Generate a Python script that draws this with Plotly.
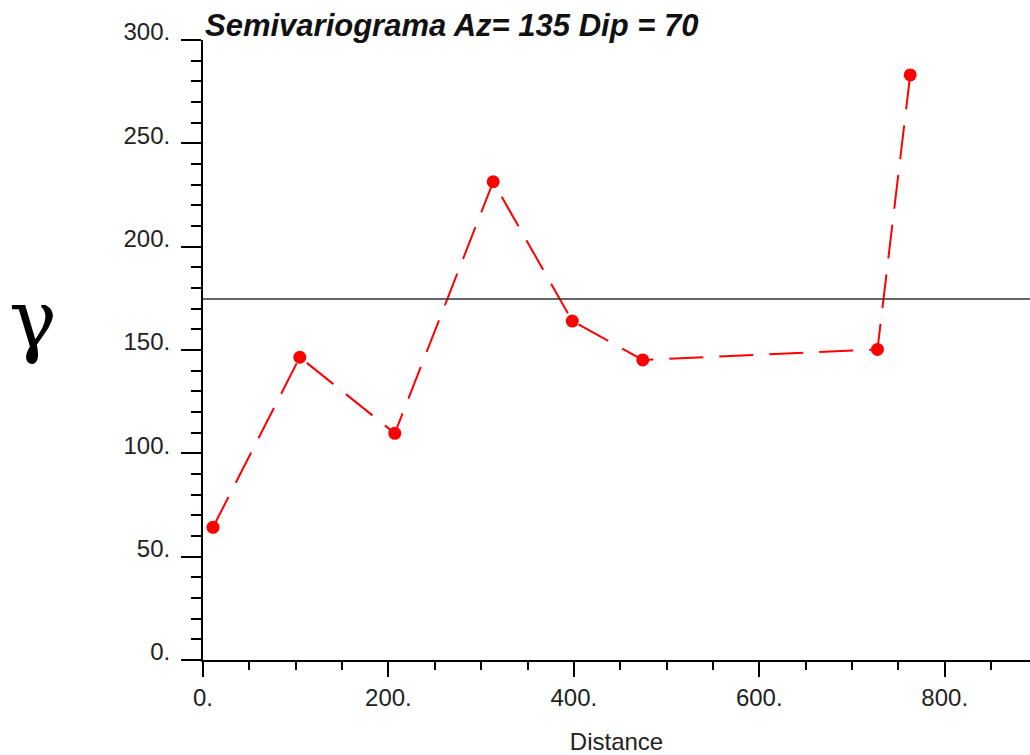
import plotly.graph_objects as go

# Data
distance = [10.8, 104.4, 206.9, 313.0, 398.3, 474.3, 727.5, 762.8]
gamma = [64.2, 146.5, 109.7, 231.4, 164.0, 145.2, 150.3, 283.1]
sill = 174.7

x_tickvals = [0, 200, 400, 600, 800]
x_ticktext = ["0.", "200.", "400.", "600.", "800."]
y_tickvals = [0, 50, 100, 150, 200, 250, 300]
y_ticktext = ["0.", "50.", "100.", "150.", "200.", "250.", "300."]

title_text = "Semivariograma Az= 135 Dip = 70"

fig = go.Figure()
fig.add_trace(go.Scatter(
    x=distance, y=gamma, mode="lines+markers",
    line=dict(color="#ff0000", width=2, dash="34px,16px"),
    marker=dict(color="#ff0000", size=13, symbol="circle"),
    showlegend=False, cliponaxis=False,
))
fig.add_hline(y=sill, line=dict(color="#333333", width=1.5))

tickfont = dict(family="Liberation Sans, Arial, sans-serif", size=24, color="#222222")

fig.update_layout(
    width=1030, height=755,
    margin=dict(l=203, r=0, t=40, b=95),
    paper_bgcolor="white", plot_bgcolor="white",
    xaxis=dict(
        range=[0, 892], showgrid=False, zeroline=False,
        showline=True, linewidth=2, linecolor="black",
        ticks="outside", ticklen=15, tickwidth=2, tickcolor="black",
        tickvals=x_tickvals, ticktext=x_ticktext, tickfont=tickfont,
        minor=dict(dtick=50, ticks="outside", ticklen=8, tickwidth=1.5, tickcolor="black", showgrid=False),
        title=dict(text="Distance", font=tickfont, standoff=25),
    ),
    yaxis=dict(
        range=[0, 300], showgrid=False, zeroline=False,
        showline=True, linewidth=2, linecolor="black",
        ticks="outside", ticklen=20, tickwidth=2, tickcolor="black",
        tickvals=y_tickvals, ticktext=y_ticktext, tickfont=tickfont,
        ticklabelshift=-8, ticklabelstandoff=6,
        minor=dict(dtick=10, ticks="outside", ticklen=10, tickwidth=1.5, tickcolor="black", showgrid=False),
    ),
)

fig.add_annotation(
    text="<b><i>" + title_text + "</i></b>",
    xref="paper", yref="paper", x=0, y=1, xanchor="left", yanchor="bottom",
    xshift=0, yshift=-5, showarrow=False,
    font=dict(family="Liberation Sans, Arial, sans-serif", size=31, color="#111111"),
)

fig.add_annotation(
    text="γ", xref="paper", yref="paper", x=0, y=0.55,
    xanchor="center", yanchor="middle", xshift=-170, showarrow=False,
    font=dict(family="DejaVu Serif, Liberation Serif, serif", size=80, color="black"),
)

fig.write_html("out.html")
